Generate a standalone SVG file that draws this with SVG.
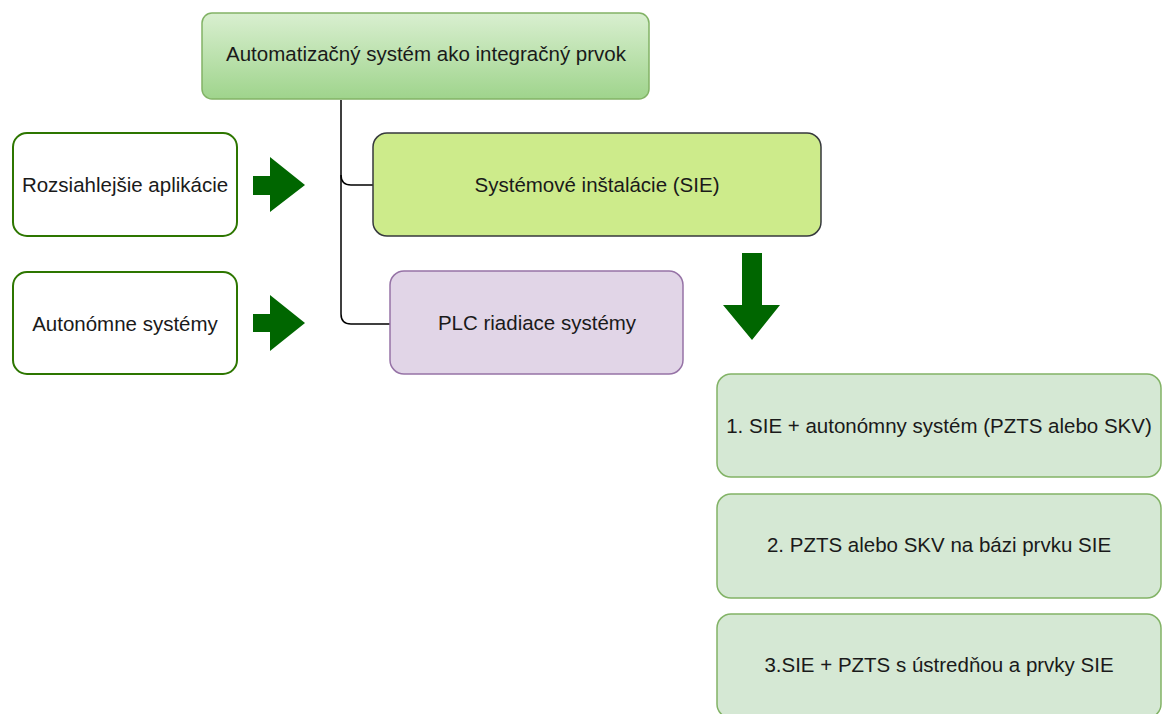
<svg xmlns="http://www.w3.org/2000/svg" width="1162" height="714" viewBox="0 0 1162 714">
<defs>
<linearGradient id="gTop" x1="0" y1="0" x2="0" y2="1">
<stop offset="0" stop-color="#d9efd0"/>
<stop offset="1" stop-color="#9fd48c"/>
</linearGradient>
<style>
text{font-family:"Liberation Sans",Arial,sans-serif;font-size:20.5px;fill:#1a1a1a;text-anchor:middle;dominant-baseline:central}
.conn{fill:none;stroke:#000;stroke-width:1.5}
.arr{fill:#006600}
</style>
</defs>
<rect width="1162" height="714" fill="#fff"/>
<g id="connectors">
<path class="conn" d="M341 100 V175 Q341 185 351 185 H374"/>
<path class="conn" d="M341 175 V314 Q341 324 351 324 H390"/>
</g>
<g id="arrows">
<polygon class="arr" points="253,176 270,176 270,157 305,185 270,212 270,195 253,195"/>
<polygon class="arr" points="253,314 270,314 270,295 305,323 270,351 270,332 253,332"/>
<polygon class="arr" points="742,253 762,253 762,305 780,305 752,340 723,305 742,305"/>
</g>
<g id="n-top">
<rect x="202" y="13" width="447" height="86" rx="10" fill="url(#gTop)" stroke="#82b366" stroke-width="1.5"/>
<text x="426" y="53">Automatizačný systém ako integračný prvok</text>
</g>
<g id="n-rozs">
<rect x="13" y="133" width="224" height="103" rx="14" fill="#fff" stroke="#2d7600" stroke-width="2"/>
<text x="125" y="184">Rozsiahlejšie aplikácie</text>
</g>
<g id="n-auto">
<rect x="13" y="272" width="224" height="102" rx="14" fill="#fff" stroke="#2d7600" stroke-width="2"/>
<text x="125" y="323">Autonómne systémy</text>
</g>
<g id="n-sie">
<rect x="373" y="133" width="448" height="103" rx="14" fill="#cdeb8b" stroke="#36393d" stroke-width="1.5"/>
<text x="597" y="184">Systémové inštalácie (SIE)</text>
</g>
<g id="n-plc">
<rect x="390" y="271" width="293" height="103" rx="14" fill="#e1d5e7" stroke="#9673a6" stroke-width="1.5"/>
<text x="537" y="322">PLC riadiace systémy</text>
</g>
<g id="n-1">
<rect x="717" y="374" width="444" height="103" rx="14" fill="#d5e8d4" stroke="#82b366" stroke-width="1.5"/>
<text x="939" y="425">1. SIE + autonómny systém (PZTS alebo SKV)</text>
</g>
<g id="n-2">
<rect x="717" y="494" width="444" height="104" rx="14" fill="#d5e8d4" stroke="#82b366" stroke-width="1.5"/>
<text x="939" y="544">2. PZTS alebo SKV na bázi prvku SIE</text>
</g>
<g id="n-3">
<rect x="717" y="614" width="444" height="104" rx="14" fill="#d5e8d4" stroke="#82b366" stroke-width="1.5"/>
<text x="939" y="664">3.SIE + PZTS s ústredňou a prvky SIE</text>
</g>
</svg>
